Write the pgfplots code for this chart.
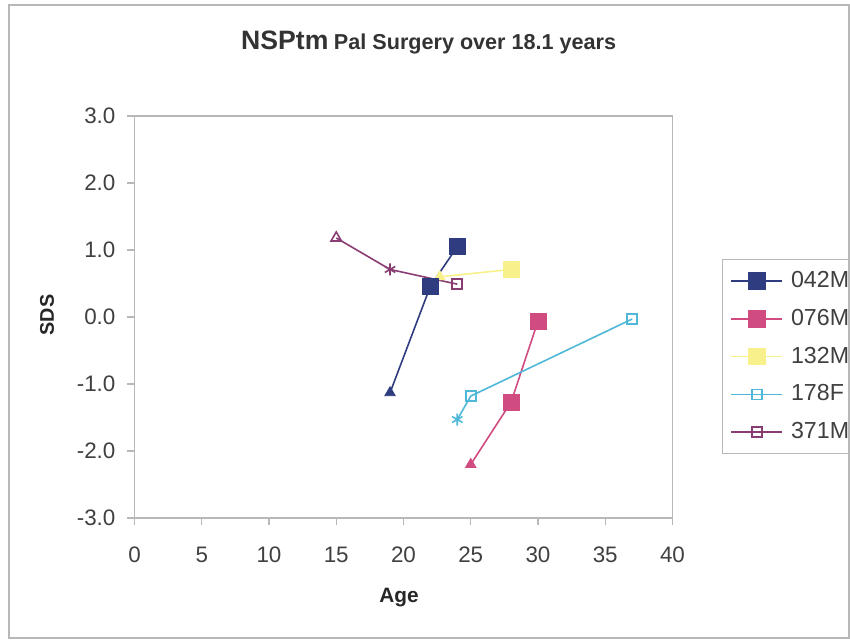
\documentclass[border=0pt]{standalone}
\usepackage{fontspec}
\setmainfont{Liberation Sans}
\usepackage{pgfplots}
\pgfplotsset{compat=1.18}
\definecolor{c042}{HTML}{2F3D80}
\definecolor{c076}{HTML}{D04C80}
\definecolor{c132}{HTML}{F8F08A}
\definecolor{c178}{HTML}{4FB8D8}
\definecolor{c371}{HTML}{8A3D72}
\definecolor{framegray}{HTML}{B8B8B8}
\begin{document}
\begin{tikzpicture}
\useasboundingbox (-67.25pt,-60.5pt) rectangle (357.75pt,259pt);
\begin{scope}
\clip (-62.75pt,-60pt) rectangle (357.25pt,256.5pt);
\begin{axis}[
    at={(0pt,0pt)}, anchor=south west,
    scale only axis,
    width=269pt, height=201pt,
    xmin=0, xmax=40, ymin=-3, ymax=3,
    xtick={0,5,...,40},
    ytick={-3,-2,...,3},
    yticklabel style={/pgf/number format/fixed, /pgf/number format/fixed zerofill, /pgf/number format/precision=1},
    /pgf/number format/assume math mode=true,
    axis line style={framegray, line width=0.6pt},
    tick style={framegray, line width=0.6pt},
    tick align=outside,
    major tick length=3.5pt,
    xtick pos=bottom, ytick pos=left,
    tick label style={font=\fontsize{11.2}{13}\selectfont, text=black!75},
    xticklabel style={yshift=-7.5pt},
    yticklabel style={xshift=-2.5pt},
    legend style={
        at={(1.092,0.644)}, anchor=north west,
        draw=framegray, line width=0.5pt,
        font=\fontsize{11.6}{13}\selectfont,
        text=black!75,
        row sep=5.25pt,
        inner xsep=4pt, inner ysep=4pt,
        cells={anchor=west},
    },
    legend image code/.code={%
        \draw[mark repeat=2,mark phase=2] plot coordinates {(0pt,0pt)(12.75pt,0pt)(25.5pt,0pt)};},
    clip=false,
]
% 042M
\addplot[c042, line width=0.8pt, mark=none, forget plot] coordinates {(19,-1.13)(22,0.46)(24,1.05)};
\addplot[c042, only marks, mark=triangle*, mark size=3pt, forget plot] coordinates {(19,-1.13)};
% 076M
\addplot[c076, line width=0.8pt, mark=none, forget plot] coordinates {(25,-2.2)(28,-1.27)(30,-0.06)};
\addplot[c076, only marks, mark=triangle*, mark size=3pt, forget plot] coordinates {(25,-2.2)};
\addplot[c076, only marks, mark=square*, mark size=4pt, forget plot] coordinates {(28,-1.27)(30,-0.06)};
% 132M
\addplot[c132, line width=0.8pt, mark=none, forget plot] coordinates {(22.7,0.6)(28,0.71)};
\addplot[c132, only marks, mark=triangle*, mark size=3pt, forget plot] coordinates {(22.7,0.6)};
\addplot[c132, only marks, mark=square*, mark size=4pt, forget plot] coordinates {(28,0.71)};
% 178F
\addplot[c178, line width=0.8pt, mark=none, forget plot] coordinates {(24,-1.53)(25,-1.18)(37,-0.03)};
\addplot[c178, only marks, mark=asterisk, mark size=3pt, line width=0.8pt, forget plot] coordinates {(24,-1.53)};
\addplot[c178, only marks, mark=square, mark size=2.5pt, line width=0.8pt, forget plot] coordinates {(25,-1.18)(37,-0.03)};
% 371M
\addplot[c371, line width=0.8pt, mark=none, forget plot] coordinates {(15,1.18)(19,0.71)(24,0.49)};
\addplot[c371, only marks, mark=triangle, mark size=3pt, line width=0.8pt, forget plot] coordinates {(15,1.18)};
\addplot[c371, only marks, mark=asterisk, mark size=3pt, line width=0.8pt, forget plot] coordinates {(19,0.71)};
\addplot[c371, only marks, mark=square, mark size=2.5pt, line width=0.8pt, forget plot] coordinates {(24,0.49)};
% 042M squares on top
\addplot[c042, only marks, mark=square*, mark size=4pt, forget plot] coordinates {(22,0.46)(24,1.05)};
% legend
\addlegendimage{c042, line width=0.8pt, mark=square*, mark size=4pt}
\addlegendentry{\hspace{2pt}042M}
\addlegendimage{c076, line width=0.8pt, mark=square*, mark size=4pt}
\addlegendentry{\hspace{2pt}076M}
\addlegendimage{c132, line width=0.8pt, mark=square*, mark size=4pt}
\addlegendentry{\hspace{2pt}132M}
\addlegendimage{c178, line width=0.8pt, mark=square, mark size=2.5pt, mark options={solid}}
\addlegendentry{\hspace{2pt}178F}
\addlegendimage{c371, line width=0.8pt, mark=square, mark size=2.5pt, mark options={solid}}
\addlegendentry{\hspace{2pt}371M}
\end{axis}
\end{scope}
\draw[framegray, line width=0.6pt] (-62.75pt,-60pt) rectangle (357.25pt,256.5pt);
\node[anchor=base, text=black!80, font=\bfseries] at (147.1pt,234.5pt)
    {{\fontsize{13.3}{15}\selectfont NSPtm} {\fontsize{10.8}{13}\selectfont Pal Surgery over 18.1 years}};
\node[rotate=90, text=black!85, font=\bfseries\fontsize{9.9}{12}\selectfont] at (-43.75pt,101.5pt) {SDS};
\node[anchor=base, text=black!85, font=\bfseries\fontsize{10.4}{12}\selectfont] at (132.25pt,-42pt) {Age};
\end{tikzpicture}
\end{document}
